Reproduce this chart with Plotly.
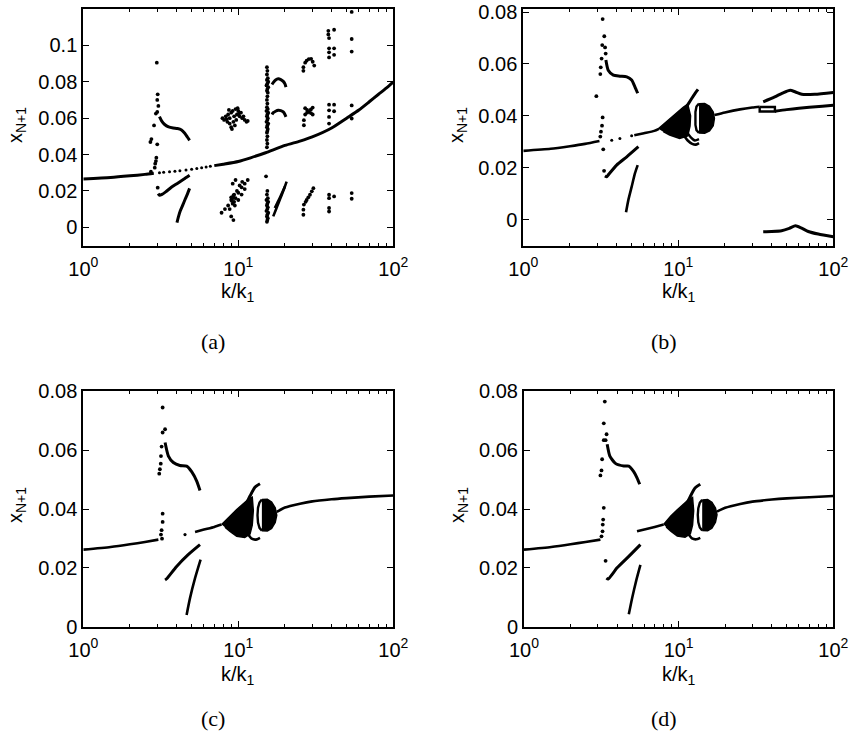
import plotly.graph_objects as go

# ================= DATA  (k/k1 , x_{N+1}) =================
# ---- panel (a)
a_main1_k = [1.0, 1.5, 2.0, 2.5, 2.85]
a_main1_x = [0.0266, 0.0274, 0.0283, 0.0291, 0.0297]
a_dash_k = [3.1, 3.3, 3.6, 3.9, 4.2, 4.6, 5.0, 5.4, 5.8, 6.2, 6.6]
a_dash_x = [0.0300, 0.0302, 0.0305, 0.0308, 0.0311, 0.0315, 0.0319, 0.0323, 0.0327, 0.0331, 0.0335]
a_main2_k = [7.0, 8.0, 10.0, 12.0, 15.0, 20.0, 25.0, 30.0, 40.0, 50.0, 60.0, 70.0, 80.0, 90.0, 100.0]
a_main2_x = [0.0339, 0.0347, 0.0362, 0.0382, 0.0410, 0.0450, 0.0474, 0.0497, 0.0546, 0.0600, 0.0645, 0.0690, 0.0730, 0.0765, 0.0800]
a_vert_k = [2.98, 3.02, 3.00, 3.05, 3.00, 2.94, 2.86, 2.75, 2.71, 3.00, 2.96, 2.94, 2.91, 2.89, 2.73, 3.02]
a_vert_x = [0.0905, 0.0731, 0.0700, 0.0667, 0.0634, 0.0625, 0.0560, 0.0485, 0.0469, 0.0456, 0.0383, 0.0364, 0.0350, 0.0328, 0.0306, 0.0218]
a_s_k = [3.10, 3.20, 3.35, 3.55, 3.80, 4.05, 4.30, 4.50, 4.70, 4.85]
a_s_x = [0.0608, 0.0585, 0.0565, 0.0552, 0.0546, 0.0543, 0.0535, 0.0518, 0.0495, 0.0478]
a_low_k = [3.04, 3.10, 3.22, 3.40, 3.70, 4.02, 4.44, 4.85]
a_low_x = [0.0185, 0.0176, 0.0181, 0.0195, 0.0220, 0.0240, 0.0264, 0.0286]
a_steep_k = [4.02, 4.10, 4.22, 4.38, 4.54, 4.70, 4.85]
a_steep_x = [0.0026, 0.0055, 0.0090, 0.0122, 0.0154, 0.0184, 0.0214]
a_c10_k = [7.9, 8.1, 8.3, 8.4, 8.5, 8.6, 8.8, 8.8, 9.0, 9.0, 9.1, 9.2, 9.3, 9.4, 9.5, 9.6, 9.7, 9.8, 10.0,
           10.2, 10.4, 10.6, 10.8, 11.0, 11.3, 11.5, 8.7, 9.9, 10.1,
           7.8, 8.2, 8.6, 9.0, 9.4, 9.8, 10.2, 10.6, 8.8, 9.2, 9.6, 10.0, 10.5, 11.0, 11.5,
           9.5, 10.0, 10.5, 11.0, 9.3, 9.0, 9.2, 9.6, 9.0, 9.4, 9.2, 9.1, 9.3]
a_c10_x = [0.060, 0.059, 0.061, 0.0595, 0.058, 0.062, 0.057, 0.060, 0.063, 0.055, 0.054, 0.064, 0.058, 0.061, 0.056,
           0.065, 0.059, 0.062, 0.064, 0.061, 0.063, 0.060, 0.061, 0.059, 0.058, 0.0585, 0.0645, 0.0655, 0.0625,
           0.008, 0.010, 0.012, 0.015, 0.018, 0.020, 0.023, 0.025, 0.010, 0.013, 0.016, 0.019, 0.022, 0.024, 0.026,
           0.012, 0.015, 0.018, 0.021, 0.004, 0.006, 0.024, 0.026, 0.0165, 0.014, 0.016, 0.0145, 0.0175]
a_col_x = [0.088, 0.086, 0.084, 0.082, 0.081, 0.080, 0.079, 0.078, 0.077, 0.076, 0.075, 0.074, 0.072, 0.070,
           0.068, 0.066, 0.065, 0.064, 0.063, 0.062, 0.061, 0.060, 0.059, 0.058, 0.057, 0.056, 0.055, 0.054,
           0.053, 0.052, 0.050, 0.048, 0.046, 0.044,
           0.028, 0.020, 0.018, 0.016, 0.015, 0.014, 0.013, 0.012, 0.011, 0.010, 0.009, 0.008, 0.007, 0.006,
           0.005, 0.004, 0.003]
a_col_k = [15.3, 15.4, 15.3, 15.5, 15.3, 15.6, 15.4, 15.2, 15.6, 15.4, 15.3, 15.5, 15.4, 15.3,
           15.4, 15.3, 15.5, 15.2, 15.6, 15.4, 15.3, 15.5, 15.4, 15.2, 15.6, 15.4, 15.3, 15.5,
           15.4, 15.3, 15.4, 15.3, 15.4, 15.3,
           15.1, 15.4, 15.3, 15.5, 15.2, 15.6, 15.4, 15.3, 15.5, 15.4, 15.2, 15.6, 15.4, 15.3,
           15.5, 15.4, 15.3]
a_arc1_k = [16.5, 16.8, 17.4, 18.1, 18.8, 19.5, 20.0, 20.3]
a_arc1_x = [0.0785, 0.0795, 0.0810, 0.0816, 0.0812, 0.0802, 0.0788, 0.0771]
a_arc2_k = [16.5, 16.8, 17.4, 18.1, 18.8, 19.5, 20.0, 20.3]
a_arc2_x = [0.0620, 0.0630, 0.0638, 0.0643, 0.0641, 0.0634, 0.0620, 0.0607]
a_str1_k = [16.8, 17.5, 18.2, 19.0, 19.8, 20.5]
a_str1_x = [0.0060, 0.0098, 0.0135, 0.0175, 0.0215, 0.0251]
a_str2_k = [17.2, 17.9, 18.6, 19.3, 20.0]
a_str2_x = [0.0106, 0.0136, 0.0165, 0.0195, 0.0224]
a_c28_k = [26.3, 27.0, 27.6, 28.5, 29.5, 30.2, 30.9, 26.3,
           27.0, 27.8, 28.6, 29.4, 30.2, 27.0, 27.8, 29.4, 30.2, 26.5, 26.5,
           26.5, 27.2, 27.6, 28.3, 29.0, 29.8, 30.5, 26.3, 26.3]
a_c28_x = [0.0880, 0.0905, 0.0916, 0.0925, 0.0926, 0.0910, 0.0889, 0.0860,
           0.0655, 0.0645, 0.0635, 0.0628, 0.0620, 0.0620, 0.0630, 0.0648, 0.0658, 0.0589, 0.0561,
           0.0125, 0.0140, 0.0150, 0.0165, 0.0179, 0.0198, 0.0215, 0.0097, 0.0069]
a_c40_k = [38.1, 38.1, 38.5, 41.5, 38.5, 38.5, 38.5, 41.5, 41.5, 38.5, 38.5, 38.5, 41.5, 41.5, 38.5,
           38.5, 38.5, 41.5, 38.5, 38.5]
a_c40_x = [0.1080, 0.1060, 0.1040, 0.1086, 0.0984, 0.0962, 0.0934, 0.0984, 0.0948, 0.0674, 0.0643, 0.0607,
           0.0674, 0.0638, 0.0570, 0.0179, 0.0160, 0.0170, 0.0106, 0.0087]
a_c55_k = [53.9, 53.9, 53.9, 53.9, 53.9, 53.9, 53.9]
a_c55_x = [0.1184, 0.1035, 0.0966, 0.0670, 0.0598, 0.0188, 0.0157]

# ---- panel (b)
b_main1_k = [1.0, 1.5, 2.0, 2.5, 3.1]
b_main1_x = [0.0265, 0.0273, 0.0283, 0.0292, 0.0303]
b_dots_k = [3.72, 4.2, 5.0]
b_dots_x = [0.0306, 0.0313, 0.0323]
b_main2_k = [5.2, 6.0, 7.0, 7.5]
b_main2_x = [0.0325, 0.0333, 0.0342, 0.0350]
b_vert_k = [3.25, 3.33, 3.23, 3.37, 3.40, 3.20, 3.16, 3.14, 2.96, 3.25, 3.22, 3.17, 3.14, 3.28, 3.32]
b_vert_x = [0.0773, 0.0707, 0.0673, 0.0664, 0.0640, 0.0621, 0.0587, 0.0561, 0.0476, 0.0394, 0.0362,
            0.0339, 0.0320, 0.0271, 0.0188]
b_s_k = [3.41, 3.53, 3.81, 4.2, 4.65, 5.0, 5.25, 5.47]
b_s_x = [0.0615, 0.0576, 0.0557, 0.0553, 0.0550, 0.0538, 0.0512, 0.0487]
b_low_k = [3.36, 3.45, 3.53, 4.0, 4.65, 5.53]
b_low_x = [0.0168, 0.0165, 0.0172, 0.0210, 0.0242, 0.0281]
b_steep_k = [4.6, 4.76, 5.0, 5.25, 5.47]
b_steep_x = [0.0028, 0.0075, 0.0126, 0.0178, 0.0210]
b_blob_k = [7.43, 8.4, 9.5, 10.8, 11.5, 12.0, 11.9, 11.5, 10.2, 8.8, 8.0]
b_blob_x = [0.0350, 0.0378, 0.0406, 0.0434, 0.0445, 0.0400, 0.0360, 0.0323, 0.0313, 0.0326, 0.0339]
b_horn_k = [11.0, 11.6, 12.2, 12.8, 13.4]
b_horn_x = [0.0425, 0.0446, 0.0467, 0.0486, 0.0502]
b_hook1_k = [10.8, 11.5, 12.3, 13.0, 13.6]
b_hook1_x = [0.0326, 0.0305, 0.0292, 0.0289, 0.0295]
b_hook2_k = [11.3, 12.0, 12.8, 13.6]
b_hook2_x = [0.0340, 0.0318, 0.0305, 0.0310]
b_disk_k = [13.6, 14.8, 15.9, 16.8, 17.1, 16.8, 15.9, 14.8, 13.6]
b_disk_x = [0.0447, 0.0448, 0.0437, 0.0415, 0.0390, 0.0362, 0.0342, 0.0333, 0.0334]
b_arc_k = [13.6, 13.1, 12.9, 12.85, 12.9, 13.1, 13.6]
b_arc_x = [0.0447, 0.0436, 0.0415, 0.0390, 0.0365, 0.0345, 0.0334]
b_main3_k = [17.1, 20.0, 25.0, 30.0, 33.5]
b_main3_x = [0.0403, 0.0413, 0.0425, 0.0432, 0.0435]
b_loop_k = [33.5, 42.0, 42.0, 33.5, 33.5]
b_loop_x = [0.0434, 0.0434, 0.0417, 0.0417, 0.0434]
b_main4_k = [42.0, 50.0, 60.0, 70.0, 85.0, 100.0]
b_main4_x = [0.0418, 0.0424, 0.0429, 0.0433, 0.0437, 0.0441]
b_up_k = [35.3, 41.9, 47.0, 52.7, 57.0, 62.6, 76.0, 100.0]
b_up_x = [0.0454, 0.0473, 0.0488, 0.0499, 0.0492, 0.0483, 0.0483, 0.0490]
b_bot_k = [35.3, 40.0, 46.4, 52.0, 57.0, 62.0, 69.0, 80.0, 100.0]
b_bot_x = [-0.0047, -0.0046, -0.0043, -0.0034, -0.0024, -0.0032, -0.0046, -0.0056, -0.0066]

# ---- panel (c)
c_main1_k = [1.0, 1.5, 2.0, 2.5, 3.05]
c_main1_x = [0.0262, 0.0271, 0.0280, 0.0288, 0.0296]
c_vert_k = [3.25, 3.37, 3.25, 3.20, 3.17, 3.16, 3.12, 3.09, 3.25, 3.25, 3.20, 3.17, 3.22]
c_vert_x = [0.0745, 0.0671, 0.0660, 0.0612, 0.0580, 0.0554, 0.0535, 0.0520, 0.0384, 0.0356, 0.0328, 0.0313, 0.0299]
c_s_k = [3.37, 3.54, 3.81, 4.2, 4.64, 5.0, 5.39, 5.66]
c_s_x = [0.0626, 0.0580, 0.0558, 0.0548, 0.0546, 0.0527, 0.0495, 0.0463]
c_dot_k = [4.53]
c_dot_x = [0.0313]
c_main2_k = [5.26, 6.0, 7.0, 7.8]
c_main2_x = [0.0322, 0.0330, 0.0339, 0.0347]
c_low_k = [3.37, 3.45, 4.0, 4.75, 5.66]
c_low_x = [0.0159, 0.0163, 0.0205, 0.0245, 0.0279]
c_steep_k = [4.64, 4.88, 5.26, 5.71]
c_steep_x = [0.0040, 0.0097, 0.0165, 0.0228]
c_blob_k = [7.81, 8.84, 9.77, 10.77, 11.6, 12.3, 12.5, 12.3, 11.9, 11.0, 9.77, 8.84, 8.2]
c_blob_x = [0.0347, 0.0377, 0.0398, 0.0418, 0.0433, 0.0440, 0.0395, 0.0345, 0.0315, 0.0303, 0.0307, 0.0324, 0.0338]
c_horn_k = [11.0, 11.9, 12.8, 13.8]
c_horn_x = [0.0406, 0.0444, 0.0474, 0.0486]
c_hook_k = [11.6, 12.2, 13.0, 13.8]
c_hook_x = [0.0313, 0.0299, 0.0296, 0.0302]
c_disk_k = [14.2, 15.4, 16.4, 17.3, 17.7, 17.3, 16.4, 15.4, 14.2]
c_disk_x = [0.0432, 0.0433, 0.0424, 0.0404, 0.0379, 0.0354, 0.0334, 0.0325, 0.0326]
c_arc_k = [14.2, 13.7, 13.4, 13.3, 13.4, 13.7, 14.2]
c_arc_x = [0.0432, 0.0422, 0.0404, 0.0379, 0.0354, 0.0336, 0.0326]
c_main3_k = [17.7, 20.0, 25.0, 30.0, 40.0, 50.0, 70.0, 100.0]
c_main3_x = [0.0390, 0.0405, 0.0418, 0.0426, 0.0433, 0.0437, 0.0442, 0.0446]

# ---- panel (d)
d_main1_k = [1.0, 1.5, 2.0, 2.5, 3.12]
d_main1_x = [0.0262, 0.0271, 0.0280, 0.0288, 0.0296]
d_vert_k = [3.33, 3.28, 3.42, 3.28, 3.37, 3.20, 3.17, 3.12, 3.28, 3.25, 3.23, 3.22, 3.17, 3.37]
d_vert_x = [0.0765, 0.0691, 0.0654, 0.0634, 0.0634, 0.0569, 0.0531, 0.0514, 0.0404, 0.0364, 0.0347,
            0.0324, 0.0307, 0.0224]
d_s_k = [3.45, 3.59, 3.9, 4.42, 4.76, 5.12, 5.38, 5.6]
d_s_x = [0.0620, 0.0580, 0.0555, 0.0546, 0.0546, 0.0527, 0.0506, 0.0484]
d_main2_k = [5.38, 6.0, 7.0, 8.0]
d_main2_x = [0.0324, 0.0330, 0.0339, 0.0347]
d_low_k = [3.41, 3.50, 4.0, 4.76, 5.66]
d_low_x = [0.0165, 0.0162, 0.0200, 0.0239, 0.0279]
d_steep_k = [4.76, 5.0, 5.33, 5.66]
d_steep_x = [0.0042, 0.0097, 0.0159, 0.0210]
d_blob_k = [8.0, 8.9, 9.8, 10.8, 11.6, 12.3, 12.5, 12.3, 11.9, 11.0, 9.8, 8.9, 8.3]
d_blob_x = [0.0347, 0.0376, 0.0397, 0.0417, 0.0432, 0.0439, 0.0394, 0.0345, 0.0316, 0.0304, 0.0308, 0.0325, 0.0339]
d_horn_k = [11.0, 11.9, 12.8, 13.8]
d_horn_x = [0.0406, 0.0443, 0.0472, 0.0484]
d_hook_k = [11.6, 12.2, 13.0, 13.8]
d_hook_x = [0.0314, 0.0300, 0.0297, 0.0302]
d_disk_k = [14.2, 15.4, 16.4, 17.3, 17.7, 17.3, 16.4, 15.4, 14.2]
d_disk_x = [0.0431, 0.0432, 0.0423, 0.0403, 0.0380, 0.0355, 0.0335, 0.0326, 0.0327]
d_arc_k = [14.2, 13.7, 13.4, 13.3, 13.4, 13.7, 14.2]
d_arc_x = [0.0431, 0.0421, 0.0403, 0.0380, 0.0355, 0.0337, 0.0327]
d_main3_k = [17.7, 20.0, 25.0, 30.0, 40.0, 50.0, 70.0, 100.0]
d_main3_x = [0.0391, 0.0404, 0.0417, 0.0425, 0.0432, 0.0436, 0.0440, 0.0444]

# ---- axes ticks / labels
x_tickvals = [1, 10, 100]
x_ticktext = ["10<sup>0</sup>", "10<sup>1</sup>", "10<sup>2</sup>"]
x_minor = [2, 3, 4, 5, 6, 7, 8, 9, 20, 30, 40, 50, 60, 70, 80, 90]
ya_tickvals = [0, 0.02, 0.04, 0.06, 0.08, 0.1]
ya_ticktext = ["0", "0.02", "0.04", "0.06", "0.08", "0.1"]
yb_tickvals = [0, 0.02, 0.04, 0.06, 0.08]
yb_ticktext = ["0", "0.02", "0.04", "0.06", "0.08"]
captions = ["(a)", "(b)", "(c)", "(d)"]

# ================= FIGURE =================
W, H = 851, 736
fig = go.Figure()
SANS = "Liberation Sans"
SERIF = "Liberation Serif"


def line(k, x, ax, w=2.6, smooth=True):
    fig.add_trace(go.Scatter(x=k, y=x, mode="lines",
                             line=dict(color="black", width=w, shape="spline" if smooth else "linear",
                                       smoothing=0.6),
                             xaxis="x" + ax, yaxis="y" + ax, hoverinfo="skip", showlegend=False))


def dots(k, x, ax, s=3.8):
    fig.add_trace(go.Scatter(x=k, y=x, mode="markers", marker=dict(color="black", size=s, line=dict(width=0)),
                             xaxis="x" + ax, yaxis="y" + ax, hoverinfo="skip", showlegend=False))


def blob(k, x, ax):
    fig.add_trace(go.Scatter(x=k, y=x, mode="lines", fill="toself", fillcolor="black",
                             line=dict(color="black", width=1.5),
                             xaxis="x" + ax, yaxis="y" + ax, hoverinfo="skip", showlegend=False))


# panel a
line(a_main1_k, a_main1_x, "", 3)
dots(a_dash_k, a_dash_x, "", 3)
line(a_main2_k, a_main2_x, "", 3)
dots(a_vert_k, a_vert_x, "")
line(a_s_k, a_s_x, "", 3)
line(a_low_k, a_low_x, "", 3)
line(a_steep_k, a_steep_x, "", 3)
dots(a_c10_k, a_c10_x, "")
dots(a_col_k, a_col_x, "")
line(a_arc1_k, a_arc1_x, "", 3)
line(a_arc2_k, a_arc2_x, "", 3)
line(a_str1_k, a_str1_x, "", 2.6)
line(a_str2_k, a_str2_x, "", 2.6)
dots(a_c28_k, a_c28_x, "")
dots(a_c40_k, a_c40_x, "")
dots(a_c55_k, a_c55_x, "")

# panel b
line(b_main1_k, b_main1_x, "2")
dots(b_dots_k, b_dots_x, "2", 3)
line(b_main2_k, b_main2_x, "2")
dots(b_vert_k, b_vert_x, "2")
line(b_s_k, b_s_x, "2", 3)
line(b_low_k, b_low_x, "2", 3)
line(b_steep_k, b_steep_x, "2", 2.6)
blob(b_blob_k, b_blob_x, "2")
line(b_horn_k, b_horn_x, "2", 3)
line(b_hook1_k, b_hook1_x, "2", 2.6)
line(b_hook2_k, b_hook2_x, "2", 2.4)
blob(b_disk_k, b_disk_x, "2")
line(b_arc_k, b_arc_x, "2", 2.4, smooth=False)
line(b_main3_k, b_main3_x, "2")
line(b_loop_k, b_loop_x, "2", 2.4, smooth=False)
line(b_main4_k, b_main4_x, "2", 3)
line(b_up_k, b_up_x, "2", 3)
line(b_bot_k, b_bot_x, "2", 3)

# panel c / d
for p, ax in (("c", "3"), ("d", "4")):
    g = globals()
    line(g[p + "_main1_k"], g[p + "_main1_x"], ax)
    dots(g[p + "_vert_k"], g[p + "_vert_x"], ax)
    line(g[p + "_s_k"], g[p + "_s_x"], ax, 3)
    line(g[p + "_main2_k"], g[p + "_main2_x"], ax)
    line(g[p + "_low_k"], g[p + "_low_x"], ax, 3)
    line(g[p + "_steep_k"], g[p + "_steep_x"], ax, 2.6)
    blob(g[p + "_blob_k"], g[p + "_blob_x"], ax)
    line(g[p + "_horn_k"], g[p + "_horn_x"], ax, 3)
    line(g[p + "_hook_k"], g[p + "_hook_x"], ax, 2.6)
    blob(g[p + "_disk_k"], g[p + "_disk_x"], ax)
    line(g[p + "_arc_k"], g[p + "_arc_x"], ax, 2.4, smooth=False)
    line(g[p + "_main3_k"], g[p + "_main3_x"], ax)
dots(c_dot_k, c_dot_x, "3", 3.2)

# axes
panels = {
    "": dict(xd=[83.3, 393.3], yd=[9, 245.5], yr=[-0.01, 0.12], yt=(ya_tickvals, ya_ticktext)),
    "2": dict(xd=[523.3, 833.3], yd=[9, 245.5], yr=[-0.01, 0.0812], yt=(yb_tickvals, yb_ticktext)),
    "3": dict(xd=[83.3, 393.3], yd=[391, 626.7], yr=[0, 0.0801], yt=(yb_tickvals, yb_ticktext)),
    "4": dict(xd=[524.0, 833.3], yd=[391, 626.7], yr=[0, 0.0801], yt=(yb_tickvals, yb_ticktext)),
}
common = dict(ticks="inside", tickwidth=1, tickcolor="black", mirror="allticks", showline=True,
              linecolor="black", linewidth=2, showgrid=False, zeroline=False, automargin=False,
              ticklabeloverflow="allow",
              tickfont=dict(family=SANS, size=20, color="black"))
layout = {}
for ax, p in panels.items():
    xdom = [p["xd"][0] / W, p["xd"][1] / W]
    ydom = [1 - p["yd"][1] / H, 1 - p["yd"][0] / H]
    layout["xaxis" + ax] = dict(type="log", range=[0, 2], domain=xdom, anchor="y" + ax,
                                tickmode="array", tickvals=x_tickvals, ticktext=x_ticktext, ticklen=6,
                                ticklabelstandoff=4,
                                minor=dict(tickmode="array", tickvals=x_minor, ticks="inside", ticklen=3,
                                           tickcolor="black", showgrid=False),
                                **common)
    layout["yaxis" + ax] = dict(range=p["yr"], domain=ydom, anchor="x" + ax, tickmode="array",
                                tickvals=p["yt"][0], ticktext=p["yt"][1], ticklen=6, **common)

annots = []
# captions
for cap, (cx, cy) in zip(captions, [(213, 341), (664, 341), (213, 718), (664, 718)]):
    annots.append(dict(text=cap, x=cx / W, y=1 - cy / H, xref="paper", yref="paper", showarrow=False,
                       xanchor="center", yanchor="middle", font=dict(family=SERIF, size=22, color="black")))
# axis titles
for (kx, ky), (yx, yy) in [((238, 292), (16, 125)), ((679, 292), (457, 125)),
                           ((238, 675), (16, 505)), ((679, 675), (458, 505))]:
    annots.append(dict(text="k/k<sub>1</sub>", x=kx / W, y=1 - ky / H, xref="paper", yref="paper",
                       showarrow=False, xanchor="center", yanchor="middle",
                       font=dict(family=SANS, size=20, color="black")))
    annots.append(dict(text="x<sub>N+1</sub>", x=yx / W, y=1 - yy / H, xref="paper", yref="paper",
                       showarrow=False, xanchor="center", yanchor="middle", textangle=-90,
                       font=dict(family=SANS, size=20, color="black")))

fig.update_layout(width=W, height=H, autosize=False,
                  margin=dict(l=0, r=0, t=0, b=0, pad=0, autoexpand=False),
                  paper_bgcolor="white", plot_bgcolor="white", showlegend=False,
                  annotations=annots, **layout)

fig.write_html("out.html", config={"responsive": False, "displayModeBar": False},
               post_script="document.body.style.margin='0px';document.body.style.padding='0px';")
